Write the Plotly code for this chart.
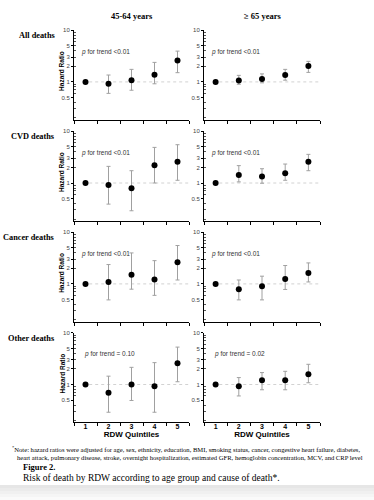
import math
import plotly.graph_objects as go

# ---------------- data ----------------
quintiles = ["1", "2", "3", "4", "5"]
causes = ["All deaths", "CVD deaths", "Cancer deaths", "Other deaths"]
age_groups = ["45-64 years", "≥ 65 years"]

# All deaths
hr_all_young = [1.0, 0.92, 1.08, 1.38, 2.61]
lo_all_young = [1.0, 0.60, 0.69, 0.92, 1.51]
hi_all_young = [1.0, 1.36, 1.75, 2.39, 3.95]
hr_all_old = [1.0, 1.06, 1.14, 1.36, 2.03]
lo_all_old = [1.0, 0.90, 0.96, 1.08, 1.53]
hi_all_old = [1.0, 1.34, 1.43, 1.75, 2.50]

# CVD deaths
hr_cvd_young = [1.0, 0.91, 0.79, 2.20, 2.59]
lo_cvd_young = [1.0, 0.39, 0.29, 1.00, 1.13]
hi_cvd_young = [1.0, 2.10, 1.73, 4.90, 5.52]
hr_cvd_old = [1.0, 1.43, 1.33, 1.54, 2.59]
lo_cvd_old = [1.0, 1.05, 0.99, 1.13, 1.73]
hi_cvd_old = [1.0, 2.17, 1.89, 2.33, 3.59]

# Cancer deaths
hr_can_young = [1.0, 1.09, 1.50, 1.22, 2.62]
lo_can_young = [1.0, 0.49, 0.79, 0.60, 1.19]
hi_can_young = [1.0, 2.37, 3.98, 2.82, 5.54]
hr_can_old = [1.0, 0.79, 0.90, 1.24, 1.63]
lo_can_old = [1.0, 0.49, 0.49, 0.78, 1.09]
hi_can_old = [1.0, 1.19, 1.41, 2.27, 2.55]

# Other deaths
hr_oth_young = [1.0, 0.69, 1.00, 0.92, 2.57]
lo_oth_young = [1.0, 0.29, 0.49, 0.29, 1.13]
hi_oth_young = [1.0, 1.45, 2.15, 2.65, 5.30]
hr_oth_old = [1.0, 0.92, 1.21, 1.21, 1.58]
lo_oth_old = [1.0, 0.60, 0.79, 0.79, 1.08]
hi_oth_old = [1.0, 1.36, 1.70, 1.80, 2.46]

p_trend = [["&lt;0.01", "&lt;0.01"],
           ["&lt;0.01", "&lt;0.01"],
           ["&lt;0.01", "&lt;0.01"],
           ["= 0.10", "= 0.02"]]

y_tick_vals = [0.5, 1, 2, 3, 5, 10]
y_tick_text = ["0.5", "1", "2", "3", "5", "10"]
y_minor_vals = [0.2, 0.3, 0.4, 0.6, 0.7, 0.8, 0.9, 2, 3, 4, 5, 6, 7, 8, 9]

footnote_1 = "Note: hazard ratios were adjusted for age, sex, ethnicity, education, BMI, smoking status, cancer, congestive heart failure, diabetes,"
footnote_2 = "heart attack, pulmonary disease, stroke, overnight hospitalization, estimated GFR, hemoglobin concentration, MCV, and CRP level"
fig_label = "Figure 2."
fig_caption = "Risk of death by RDW according to age group and cause of death*."

panels = [
    [(hr_all_young, lo_all_young, hi_all_young), (hr_all_old, lo_all_old, hi_all_old)],
    [(hr_cvd_young, lo_cvd_young, hi_cvd_young), (hr_cvd_old, lo_cvd_old, hi_cvd_old)],
    [(hr_can_young, lo_can_young, hi_can_young), (hr_can_old, lo_can_old, hi_can_old)],
    [(hr_oth_young, lo_oth_young, hi_oth_young), (hr_oth_old, lo_oth_old, hi_oth_old)],
]

# ---------------- layout geometry (pixels) ----------------
W, H = 374, 500
col_px = [(74, 189), (204, 320)]
row_tops = [27.3, 129, 230.5, 331.7]
row_h = 90
y_range = [-0.73, 1.003]
SERIF = "Liberation Serif"
SANS = "Liberation Sans"

def px_x(x):
    return x / W

def px_y(y):
    return 1 - y / H

fig = go.Figure()
layout = dict(
    width=W, height=H,
    margin=dict(l=0, r=0, t=0, b=0),
    paper_bgcolor="white", plot_bgcolor="white",
    showlegend=False,
)
annotations = []
shapes = []

ref_frac = (0 - y_range[0]) / (y_range[1] - y_range[0])

for r in range(4):
    for c in range(2):
        n = r * 2 + c + 1
        hr, lo, hi = panels[r][c]
        up = [h - v for h, v in zip(hi, hr)]
        dn = [v - l for v, l in zip(hr, lo)]
        xa = "x" if n == 1 else f"x{n}"
        ya = "y" if n == 1 else f"y{n}"
        fig.add_trace(go.Scatter(
            x=quintiles, y=hr, mode="markers",
            marker=dict(color="black", size=6),
            error_y=dict(type="data", array=up, arrayminus=dn, symmetric=False,
                         color="#a0a0a0", thickness=1, width=2),
            xaxis=xa, yaxis=ya, hoverinfo="skip", cliponaxis=False,
        ))
        x0, x1 = col_px[c]
        top = row_tops[r]
        bottom = top + row_h
        last = (r == 3)
        xdef = dict(
            domain=[px_x(x0), px_x(x1)], anchor=ya,
            type="category", range=[-0.5, 4.5],
            showline=True, linecolor="black", linewidth=1,
            ticks="outside", tickson="boundaries", ticklen=3, tickcolor="black", tickwidth=1,
            showgrid=False, zeroline=False,
            showticklabels=last,
            tickfont=dict(family=SANS, size=7, color="black", weight="bold"),
            fixedrange=True,
        )
        if last:
            xdef["ticklabelstandoff"] = -3
            xdef["title"] = dict(text="RDW Quintiles", standoff=2,
                                 font=dict(family=SANS, size=8, color="black", weight="bold"))
        layout[f"xaxis{'' if n == 1 else n}"] = xdef
        layout[f"yaxis{'' if n == 1 else n}"] = dict(
            domain=[px_y(bottom), px_y(top)], anchor=xa,
            type="log", range=y_range,
            tickvals=y_tick_vals, ticktext=y_tick_text,
            showline=True, linecolor="black", linewidth=1,
            ticks="outside", ticklen=2, tickcolor="black", tickwidth=1,
            minor=dict(tickvals=y_minor_vals, ticks="inside", ticklen=2,
                       tickcolor="#555", tickwidth=1, showgrid=False),
            tickfont=dict(family=SANS, size=6, color="#444"),
            showgrid=False, zeroline=False, fixedrange=True,
        )
        # reference line at HR = 1
        shapes.append(dict(
            type="line", xref=f"{xa} domain", yref=f"{ya} domain",
            x0=0.08, x1=1.0, y0=ref_frac, y1=ref_frac,
            line=dict(color="#d2d2d2", width=1, dash="dot"), layer="below",
        ))
        # p for trend
        px_off = 0.045 if r < 3 else 0.07
        annotations.append(dict(
            text=f"<i>p</i> for trend {p_trend[r][c]}",
            xref=f"{xa} domain", yref=f"{ya} domain",
            x=px_off, y=0.76, xanchor="left", yanchor="middle", showarrow=False,
            font=dict(family=SANS, size=6.5, color="#333"),
        ))
        if c == 0:
            annotations.append(dict(
                text="<b>Hazard Ratio</b>", textangle=-90,
                xref="paper", yref="paper",
                x=px_x(62), y=px_y(row_tops[r] + 41), xanchor="center", yanchor="middle",
                showarrow=False, font=dict(family=SANS, size=6.5, color="black"),
            ))
            annotations.append(dict(
                text=f"<b>{causes[r]}</b>",
                xref="paper", yref="paper",
                x=px_x(57), y=px_y(row_tops[r] + 5.5), xanchor="right", yanchor="middle",
                showarrow=False, font=dict(family=SERIF, size=8.3, color="black"),
            ))

# column titles
for c in range(2):
    x0, x1 = col_px[c]
    annotations.append(dict(
        text=f"<b>{age_groups[c]}</b>", xref="paper", yref="paper",
        x=px_x((x0 + x1) / 2), y=px_y(13), xanchor="center", yanchor="middle",
        showarrow=False, font=dict(family=SERIF, size=8.5, color="black"),
    ))

# footnote
annotations.append(dict(
    text="<sup>*</sup>" + footnote_1, xref="paper", yref="paper",
    x=px_x(10), y=px_y(449), xanchor="left", yanchor="middle",
    showarrow=False, font=dict(family=SERIF, size=6.6, color="black"),
))
annotations.append(dict(
    text=footnote_2, xref="paper", yref="paper",
    x=px_x(14.5), y=px_y(457), xanchor="left", yanchor="middle",
    showarrow=False, font=dict(family=SERIF, size=6.6, color="black"),
))
annotations.append(dict(
    text=f"<b>{fig_label}</b>", xref="paper", yref="paper",
    x=px_x(20.5), y=px_y(467), xanchor="left", yanchor="middle",
    showarrow=False, font=dict(family=SERIF, size=8.5, color="black"),
))
annotations.append(dict(
    text=fig_caption, xref="paper", yref="paper",
    x=px_x(20.5), y=px_y(478), xanchor="left", yanchor="middle",
    showarrow=False, font=dict(family=SERIF, size=9.5, color="black"),
))

# soft gray shading at the very bottom
grays = ["#fafafa", "#f5f5f5", "#f0f0f0", "#ebebeb", "#e6e6e6"]
for i, g in enumerate(grays):
    shapes.append(dict(
        type="rect", xref="paper", yref="paper",
        x0=0, x1=1, y0=px_y(500 - 3 * i), y1=px_y(500 - 3 * (i + 1)),
        fillcolor=g, line=dict(width=0), layer="below",
    ))

layout["annotations"] = annotations
layout["shapes"] = shapes
fig.update_layout(**layout)
fig.write_html("out.html", config={"displayModeBar": False, "staticPlot": True},
               post_script="document.body.style.margin='0px';document.body.style.overflow='hidden';")
